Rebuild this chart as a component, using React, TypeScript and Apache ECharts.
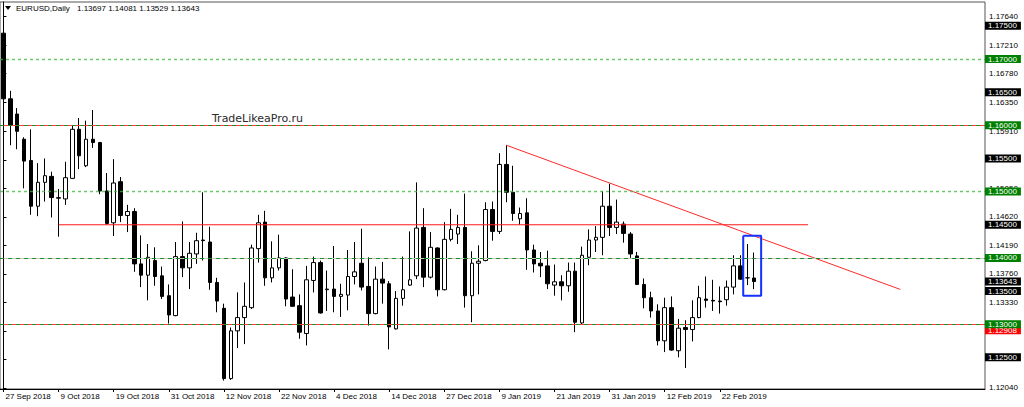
import React, { useEffect, useRef } from "react";
import * as echarts from "echarts";

// ---------- data ----------
const START_DATE = "2018-09-27";
const HOLIDAYS = ["2018-12-25", "2019-01-01"];
const EMPTY_SLOTS = 33;
const LABEL_EVERY = 8;

const OPEN = [1.1739,1.1640,1.1617,1.1579,1.1547,1.1478,1.1514,1.1523,1.1490,1.1489,
1.1520,1.1594,1.1539,1.1579,1.1574,1.1501,1.1453,1.1515,1.1464,1.1470,
1.1391,1.1374,1.1396,1.1373,1.1343,1.1313,1.1402,1.1385,1.1406,1.1427,
1.1424,1.1363,1.1324,1.1218,1.1290,1.1310,1.1325,1.1414,1.1454,1.1370,
1.1385,1.1400,1.1341,1.1328,1.1286,1.1366,1.1393,1.1352,1.1353,1.1342,
1.1344,1.1372,1.1392,1.1357,1.1316,1.1368,1.1361,1.1293,1.1339,1.1359,
1.1373,1.1446,1.1371,1.1415,1.1352,1.1428,1.1436,1.1446,1.1343,1.1392,
1.1396,1.1473,1.1440,1.1541,1.1499,1.1459,1.1468,1.1412,1.1392,1.1388,
1.1359,1.1364,1.1358,1.1380,1.1302,1.1401,1.1427,1.1431,1.1478,1.1446,
1.1451,1.1436,1.1403,1.1360,1.1340,1.1320,1.1275,1.1325,1.1260,1.1295,
1.1292,1.1310,1.1338,1.1336,1.1335,1.1337,1.1356,1.1388,1.1370,1.13697];

const HIGH = [1.1759,1.1652,1.1626,1.1582,1.1594,1.1543,1.1550,1.1530,1.1504,1.1545,
1.1599,1.1611,1.1607,1.1623,1.1575,1.1528,1.1549,1.1522,1.1480,1.1475,
1.1434,1.1421,1.1416,1.1387,1.1360,1.1424,1.1455,1.1424,1.1438,1.1499,
1.1447,1.1370,1.1331,1.1295,1.1348,1.1363,1.1420,1.1465,1.1471,1.1425,
1.1435,1.1401,1.1383,1.1345,1.1388,1.1402,1.1396,1.1381,1.1418,1.1361,
1.1412,1.1424,1.1444,1.1401,1.1387,1.1394,1.1365,1.1350,1.1402,1.1440,
1.1514,1.1475,1.1439,1.1416,1.1454,1.1474,1.1465,1.1497,1.1410,1.1419,
1.1484,1.1485,1.1558,1.1570,1.1539,1.1476,1.1490,1.1420,1.1409,1.1411,
1.1390,1.1374,1.1393,1.1393,1.1417,1.1443,1.1448,1.1501,1.1512,1.1488,
1.1455,1.1439,1.1409,1.1369,1.1349,1.1330,1.1340,1.1342,1.1308,1.1306,
1.1336,1.1358,1.1372,1.1367,1.1357,1.1366,1.1404,1.1404,1.1421,1.14081];

const LOW = [1.1638,1.1570,1.1564,1.1505,1.1465,1.1463,1.1485,1.1461,1.1432,1.1480,
1.1519,1.1534,1.1537,1.1566,1.1496,1.1450,1.1433,1.1454,1.1439,1.1379,
1.1356,1.1336,1.1358,1.1338,1.1301,1.1312,1.1371,1.1353,1.1391,1.1396,
1.1352,1.1318,1.1215,1.1216,1.1264,1.1270,1.1323,1.1393,1.1358,1.1363,
1.1381,1.1327,1.1326,1.1278,1.1268,1.1348,1.1316,1.1320,1.1318,1.1311,
1.1321,1.1360,1.1351,1.1298,1.1315,1.1331,1.1262,1.1292,1.1328,1.1358,
1.1368,1.1356,1.1369,1.1342,1.1351,1.1425,1.1421,1.1325,1.1303,1.1345,
1.1395,1.1426,1.1436,1.1484,1.1456,1.1450,1.1382,1.1378,1.1371,1.1353,
1.1343,1.1336,1.1349,1.1288,1.1300,1.1389,1.1409,1.1404,1.1433,1.1436,
1.1423,1.1400,1.1359,1.1324,1.1310,1.1268,1.1258,1.1260,1.1250,1.1234,
1.1274,1.1309,1.1325,1.1320,1.1316,1.1328,1.1345,1.1367,1.1359,1.13529];

const CLOSE = [1.1640,1.1600,1.1591,1.1546,1.1478,1.1514,1.1524,1.1491,1.1491,1.1521,
1.1594,1.1554,1.1579,1.1574,1.1501,1.1452,1.1513,1.1464,1.1470,1.1391,
1.1374,1.1401,1.1372,1.1342,1.1314,1.1402,1.1385,1.1407,1.1426,1.1426,
1.1363,1.1335,1.1218,1.1290,1.1310,1.1327,1.1415,1.1453,1.1370,1.1385,
1.1400,1.1338,1.1327,1.1288,1.1367,1.1393,1.1317,1.1353,1.1342,1.1345,
1.1372,1.1379,1.1356,1.1316,1.1368,1.1362,1.1296,1.1339,1.1352,1.1367,
1.1445,1.1371,1.1416,1.1352,1.1428,1.1443,1.1446,1.1343,1.1392,1.1395,
1.1473,1.1440,1.1541,1.1499,1.1467,1.1467,1.1412,1.1391,1.1388,1.1361,
1.1364,1.1358,1.1380,1.1303,1.1404,1.1427,1.1431,1.1478,1.1446,1.1454,
1.1437,1.1406,1.1360,1.1340,1.1320,1.1275,1.1325,1.1261,1.1294,1.1292,
1.1310,1.1340,1.1336,1.1335,1.1334,1.1356,1.1388,1.1368,1.1370,1.13643];

const Y_MIN = 1.12023;
const Y_MAX = 1.1786;
// tick marks on the price scale
const PRICE_TICKS = [1.1204,1.1247,1.129,1.1333,1.1376,1.1419,1.1462,1.1505,1.1548,1.1591,1.1635,1.1678,1.1721,1.1764];
// tick labels that are visible (others are covered by level boxes)
const PRICE_TICK_LABELS = [1.1204,1.1333,1.1376,1.1419,1.1462,1.1505,1.1591,1.1635,1.1678,1.1721,1.1764];

const LEVELS_BLACK = [1.175, 1.165, 1.155, 1.145, 1.135, 1.125];
const LEVELS_GREEN = [1.17, 1.16, 1.15, 1.14, 1.13];
const LEVELS_RED = [1.12908];
const CURRENT_PRICE = 1.13643;

const LINES_LIGHT_DOTTED = [1.17, 1.15];
const LINES_DARK_DASHED = [1.16, 1.14, 1.13];
const LINES_RED_FULL = [1.16, 1.12908];

const SUPPORT_LINE = [[8, 1.145], [116.8, 1.145]];
const TREND_LINE = [[73, 1.157], [130.2, 1.13525]];
const BOX = [[107.4, 1.14335], [110.0, 1.14335], [110.0, 1.1343], [107.4, 1.1343], [107.4, 1.14335]];

const SYMBOL_TITLE = "EURUSD,Daily";
const WATERMARK = "TradeLikeaPro.ru";

// ---------- helpers ----------
const MONTHS = ["Jan","Feb","Mar","Apr","May","Jun","Jul","Aug","Sep","Oct","Nov","Dec"];
function tradingDays(start: string, count: number, holidays: string[]) {
  const out: string[] = [];
  const d = new Date(start + "T00:00:00Z");
  while (out.length < count) {
    const wd = d.getUTCDay();
    const iso = d.toISOString().slice(0, 10);
    if (wd !== 0 && wd !== 6 && holidays.indexOf(iso) < 0) {
      out.push(`${d.getUTCDate()} ${MONTHS[d.getUTCMonth()]} ${d.getUTCFullYear()}`);
    }
    d.setUTCDate(d.getUTCDate() + 1);
  }
  return out;
}

const BAR_COUNT = OPEN.length;
const DATES = tradingDays(START_DATE, BAR_COUNT, HOLIDAYS);
const CATEGORIES = DATES.concat(new Array(EMPTY_SLOTS).fill(""));
const SLOTS = CATEGORIES.length;

const FONT = "'Liberation Sans', Arial, sans-serif";

function levelStyle(v: number) {
  const near = (arr: number[]) => arr.some((a) => Math.abs(a - v) < 1e-7);
  if (near(LEVELS_GREEN)) return "g";
  if (near(LEVELS_RED)) return "r";
  return "k";
}

export default function App() {
  const ref = useRef<HTMLDivElement>(null);

  useEffect(() => {
    const chart = echarts.init(ref.current!, null, { renderer: "svg" });
    const showLabel = (i: number) => i % LABEL_EVERY === 0 && i < BAR_COUNT;
    const labelValues = [...LEVELS_BLACK, ...LEVELS_RED, CURRENT_PRICE, ...LEVELS_GREEN];
    const last = BAR_COUNT - 1;

    const markLines: any[] = [];
    markLines.push({ yAxis: CURRENT_PRICE, lineStyle: { color: "#c4c4c4", width: 1, type: "solid" } });
    LINES_RED_FULL.forEach((v) =>
      markLines.push({ yAxis: v, lineStyle: { color: "#ff3b3b", width: 1, type: "solid" } })
    );
    LINES_LIGHT_DOTTED.forEach((v) =>
      markLines.push({ yAxis: v, lineStyle: { color: "#3db43d", width: 1.4, type: [3, 3], opacity: 0.75 } })
    );
    LINES_DARK_DASHED.forEach((v) =>
      markLines.push({ yAxis: v, lineStyle: { color: "#1f8a1f", width: 1, type: [4, 4] } })
    );

    const richBox = (bg: string) => ({
      backgroundColor: bg,
      color: "#fff",
      fontSize: 8,
      lineHeight: 9,
      padding: [0, 4, 0, 3],
      fontFamily: FONT,
    });

    const option: any = {
      animation: false,
      backgroundColor: "#ffffff",
      textStyle: { fontFamily: FONT },
      grid: {
        left: 0,
        right: 39,
        top: 2,
        bottom: 18,
        show: true,
        borderColor: "#555",
        borderWidth: 1,
      },
      xAxis: [
        {
          type: "category",
          data: CATEGORIES,
          boundaryGap: true,
          axisLine: { show: true, lineStyle: { color: "#000", width: 1 } },
          axisTick: {
            show: true,
            alignWithLabel: true,
            interval: (i: number) => showLabel(i),
            length: 3,
            lineStyle: { color: "#000" },
          },
          axisLabel: {
            interval: (i: number) => showLabel(i),
            align: "left",
            margin: 3,
            padding: [0, 0, 0, 2],
            fontSize: 8,
            color: "#000",
            fontFamily: FONT,
          },
          splitLine: { show: false },
        },
        {
          type: "value",
          min: -0.5,
          max: SLOTS - 0.5,
          show: false,
        },
      ],
      yAxis: [
        {
          type: "value",
          position: "right",
          min: Y_MIN,
          max: Y_MAX,
          axisLine: { show: true, lineStyle: { color: "#000", width: 1 } },
          axisTick: { show: true, length: 3, customValues: PRICE_TICKS, lineStyle: { color: "#000" } },
          axisLabel: {
            customValues: PRICE_TICK_LABELS,
            formatter: (v: number) => v.toFixed(5),
            fontSize: 8,
            color: "#000",
            margin: 4,
            fontFamily: FONT,
          },
          splitLine: { show: false },
        },
        {
          type: "value",
          position: "right",
          min: Y_MIN,
          max: Y_MAX,
          z: 10,
          axisLine: { show: false },
          axisTick: { show: false },
          splitLine: { show: false },
          axisLabel: {
            customValues: labelValues,
            margin: 0,
            formatter: (v: number) => `{${levelStyle(v)}|${v.toFixed(5)}}`,
            rich: {
              k: richBox("#000000"),
              g: richBox("#008000"),
              r: richBox("#ff0000"),
            },
          },
        },
      ],
      series: [
        {
          type: "candlestick",
          name: "EURUSD",
          xAxisIndex: 0,
          yAxisIndex: 0,
          barWidth: 4,
          data: OPEN.map((o, i) => [o, CLOSE[i], LOW[i], HIGH[i]]),
          itemStyle: {
            color: "#ffffff",
            color0: "#000000",
            borderColor: "#000000",
            borderColor0: "#000000",
            borderWidth: 1,
          },
          markLine: {
            silent: true,
            symbol: ["none", "none"],
            label: { show: false },
            animation: false,
            data: markLines,
          },
          z: 3,
        },
        {
          type: "line",
          name: "support",
          xAxisIndex: 1,
          yAxisIndex: 0,
          data: SUPPORT_LINE,
          symbol: "none",
          lineStyle: { color: "#ff1a1a", width: 1.2 },
          silent: true,
          z: 4,
        },
        {
          type: "line",
          name: "trend",
          xAxisIndex: 1,
          yAxisIndex: 0,
          data: TREND_LINE,
          symbol: "none",
          lineStyle: { color: "#ff2a2a", width: 1 },
          silent: true,
          z: 4,
        },
        {
          type: "line",
          name: "box",
          xAxisIndex: 1,
          yAxisIndex: 0,
          data: BOX,
          symbol: "none",
          lineStyle: { color: "#1432ff", width: 2 },
          silent: true,
          z: 5,
        },
      ],
      graphic: [
        {
          type: "polygon",
          shape: { points: [[5, 6], [11, 6], [8, 10]] },
          style: { fill: "#000" },
        },
        {
          type: "text",
          x: 16,
          y: 8.5,
          style: {
            text: SYMBOL_TITLE,
            fill: "#000",
            font: `8px ${FONT}`,
            textVerticalAlign: "middle",
          },
        },
        {
          type: "text",
          x: 77,
          y: 8.5,
          style: {
            text: [OPEN[last], HIGH[last], LOW[last], CLOSE[last]].map((v) => v.toFixed(5)).join(" "),
            fill: "#000",
            font: `8px ${FONT}`,
            textVerticalAlign: "middle",
          },
        },
        {
          type: "text",
          x: 212,
          y: 118,
          style: {
            text: WATERMARK,
            fill: "#2a2a2a",
            font: `11px 'DejaVu Sans', sans-serif`,
            textVerticalAlign: "middle",
          },
        },
      ],
    };

    chart.setOption(option);
    return () => chart.dispose();
  }, []);

  return (
    <div
      ref={ref}
      style={{ position: "fixed", left: 0, top: 0, width: 1024, height: 407, background: "#fff" }}
    />
  );
}
